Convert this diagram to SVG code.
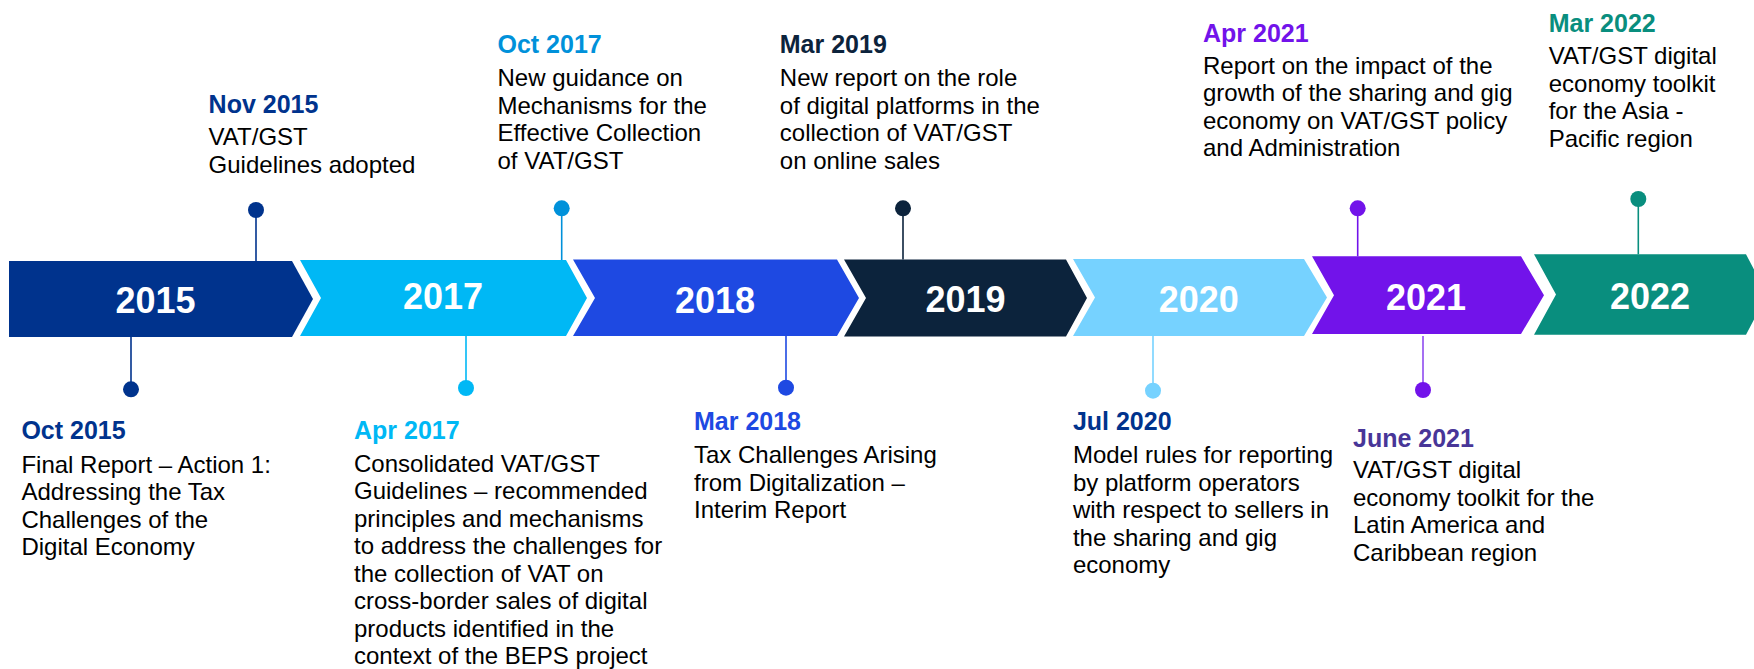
<svg xmlns="http://www.w3.org/2000/svg" width="1754" height="669" viewBox="0 0 1754 669">
<style>
text{font-family:"Liberation Sans",Arial,Helvetica,sans-serif}
.yr{font-size:36px;font-weight:bold;fill:#fff;text-anchor:middle}
.hd{font-size:25px;font-weight:bold}
.bd{font-size:24px;fill:#000}
.stem{stroke-width:1.6;fill:none}
</style>
<rect width="1754" height="669" fill="#fff"/>
<g id="bars">
<g id="bar-2015"><polygon points="9,261 292,261 313,299 292,337 9,337" fill="#00338D"/><text class="yr" x="155.5" y="313">2015</text></g>
<g id="bar-2017"><polygon points="300,260 566,260 587,298 566,336 300,336 321,298" fill="#00B8F5"/><text class="yr" x="443" y="308.5">2017</text></g>
<g id="bar-2018"><polygon points="573,259.5 837,259.5 859,298 837,336 573,336 595,298" fill="#1E49E2"/><text class="yr" x="715" y="312.5">2018</text></g>
<g id="bar-2019"><polygon points="844,259.5 1066,259.5 1087,298 1066,336.5 844,336.5 866,298" fill="#0C233C"/><text class="yr" x="965.5" y="312">2019</text></g>
<g id="bar-2020"><polygon points="1073,259 1304,259 1327,297.5 1304,336 1073,336 1095,297.5" fill="#76D2FF"/><text class="yr" x="1198.7" y="312">2020</text></g>
<g id="bar-2021"><polygon points="1312,256.3 1521,256.3 1544,295.3 1521,334 1312,334 1334,295.3" fill="#7213EA"/><text class="yr" x="1426" y="309.5">2021</text></g>
<g id="bar-2022"><polygon points="1534,254.3 1746,254.3 1767,294.5 1746,334.7 1534,334.7 1556,294.5" fill="#098E7E"/><text class="yr" x="1650" y="308.5">2022</text></g>
</g>
<g id="connectors">
<line class="stem" x1="256" y1="210" x2="256" y2="261" stroke="#00338D"/>
<line class="stem" x1="561.7" y1="208.3" x2="561.7" y2="260" stroke="#0091DA"/>
<line class="stem" x1="903" y1="208.3" x2="903" y2="259.5" stroke="#0C233C"/>
<line class="stem" x1="1357.7" y1="208.3" x2="1357.7" y2="256.3" stroke="#7213EA"/>
<line class="stem" x1="1638.3" y1="199" x2="1638.3" y2="254.3" stroke="#098E7E"/>
<line class="stem" x1="131" y1="337" x2="131" y2="389.3" stroke="#00338D"/>
<line class="stem" x1="466" y1="336" x2="466" y2="388" stroke="#00B8F5"/>
<line class="stem" x1="786" y1="336" x2="786" y2="387.7" stroke="#1E49E2"/>
<line class="stem" x1="1153" y1="336" x2="1153" y2="390.7" stroke="#76D2FF"/>
<line class="stem" x1="1423" y1="336" x2="1423" y2="390" stroke="#8F4BEF"/>
</g>
<g id="ev-nov2015">
<circle cx="256" cy="210" r="8" fill="#00338D"/>
<text class="hd" x="208.6" y="113.3" fill="#00338D">Nov 2015</text>
<text class="bd" x="208.6" y="145">VAT/GST</text>
<text class="bd" x="208.6" y="172.5">Guidelines adopted</text>
</g>
<g id="ev-oct2017">
<circle cx="561.7" cy="208.3" r="8" fill="#0091DA"/>
<text class="hd" x="497.5" y="52.7" fill="#0091DA">Oct 2017</text>
<text class="bd" x="497.5" y="86">New guidance on</text>
<text class="bd" x="497.5" y="113.5">Mechanisms for the</text>
<text class="bd" x="497.5" y="141">Effective Collection</text>
<text class="bd" x="497.5" y="168.5">of VAT/GST</text>
</g>
<g id="ev-mar2019">
<circle cx="903" cy="208.3" r="8" fill="#0C233C"/>
<text class="hd" x="779.8" y="52.7" fill="#0C233C">Mar 2019</text>
<text class="bd" x="779.8" y="86">New report on the role</text>
<text class="bd" x="779.8" y="113.5">of digital platforms in the</text>
<text class="bd" x="779.8" y="141">collection of VAT/GST</text>
<text class="bd" x="779.8" y="168.5">on online sales</text>
</g>
<g id="ev-apr2021">
<circle cx="1357.7" cy="208.3" r="8" fill="#7213EA"/>
<text class="hd" x="1203" y="41.7" fill="#7213EA">Apr 2021</text>
<text class="bd" x="1203" y="73.5">Report on the impact of the</text>
<text class="bd" x="1203" y="101">growth of the sharing and gig</text>
<text class="bd" x="1203" y="128.5">economy on VAT/GST policy</text>
<text class="bd" x="1203" y="156">and Administration</text>
</g>
<g id="ev-mar2022">
<circle cx="1638.3" cy="199" r="8" fill="#098E7E"/>
<text class="hd" x="1548.7" y="31.7" fill="#098E7E">Mar 2022</text>
<text class="bd" x="1548.7" y="64.3">VAT/GST digital</text>
<text class="bd" x="1548.7" y="91.8">economy toolkit</text>
<text class="bd" x="1548.7" y="119.3">for the Asia -</text>
<text class="bd" x="1548.7" y="146.8">Pacific region</text>
</g>
<g id="ev-oct2015">
<circle cx="131" cy="389.3" r="8" fill="#00338D"/>
<text class="hd" x="21.4" y="439.3" fill="#00338D">Oct 2015</text>
<text class="bd" x="21.4" y="472.7">Final Report – Action 1:</text>
<text class="bd" x="21.4" y="500.2">Addressing the Tax</text>
<text class="bd" x="21.4" y="527.7">Challenges of the</text>
<text class="bd" x="21.4" y="555.2">Digital Economy</text>
</g>
<g id="ev-apr2017">
<circle cx="466" cy="388" r="8" fill="#00B8F5"/>
<text class="hd" x="354" y="438.7" fill="#00B8F5">Apr 2017</text>
<text class="bd" x="354" y="471.7">Consolidated VAT/GST</text>
<text class="bd" x="354" y="499.2">Guidelines – recommended</text>
<text class="bd" x="354" y="526.7">principles and mechanisms</text>
<text class="bd" x="354" y="554.2">to address the challenges for</text>
<text class="bd" x="354" y="581.7">the collection of VAT on</text>
<text class="bd" x="354" y="609.2">cross-border sales of digital</text>
<text class="bd" x="354" y="636.7">products identified in the</text>
<text class="bd" x="354" y="664.2">context of the BEPS project</text>
</g>
<g id="ev-mar2018">
<circle cx="786" cy="387.7" r="8" fill="#1E49E2"/>
<text class="hd" x="694" y="430" fill="#1E49E2">Mar 2018</text>
<text class="bd" x="694" y="463.3">Tax Challenges Arising</text>
<text class="bd" x="694" y="490.8">from Digitalization –</text>
<text class="bd" x="694" y="518.3">Interim Report</text>
</g>
<g id="ev-jul2020">
<circle cx="1153" cy="390.7" r="8" fill="#76D2FF"/>
<text class="hd" x="1072.9" y="430" fill="#00338D">Jul 2020</text>
<text class="bd" x="1072.9" y="463.3">Model rules for reporting</text>
<text class="bd" x="1072.9" y="490.8">by platform operators</text>
<text class="bd" x="1072.9" y="518.3">with respect to sellers in</text>
<text class="bd" x="1072.9" y="545.8">the sharing and gig</text>
<text class="bd" x="1072.9" y="573.3">economy</text>
</g>
<g id="ev-jun2021">
<circle cx="1423" cy="390" r="8" fill="#7213EA"/>
<text class="hd" x="1353" y="446.7" fill="#483698">June 2021</text>
<text class="bd" x="1353" y="478.3">VAT/GST digital</text>
<text class="bd" x="1353" y="505.8">economy toolkit for the</text>
<text class="bd" x="1353" y="533.3">Latin America and</text>
<text class="bd" x="1353" y="560.8">Caribbean region</text>
</g>
</svg>
